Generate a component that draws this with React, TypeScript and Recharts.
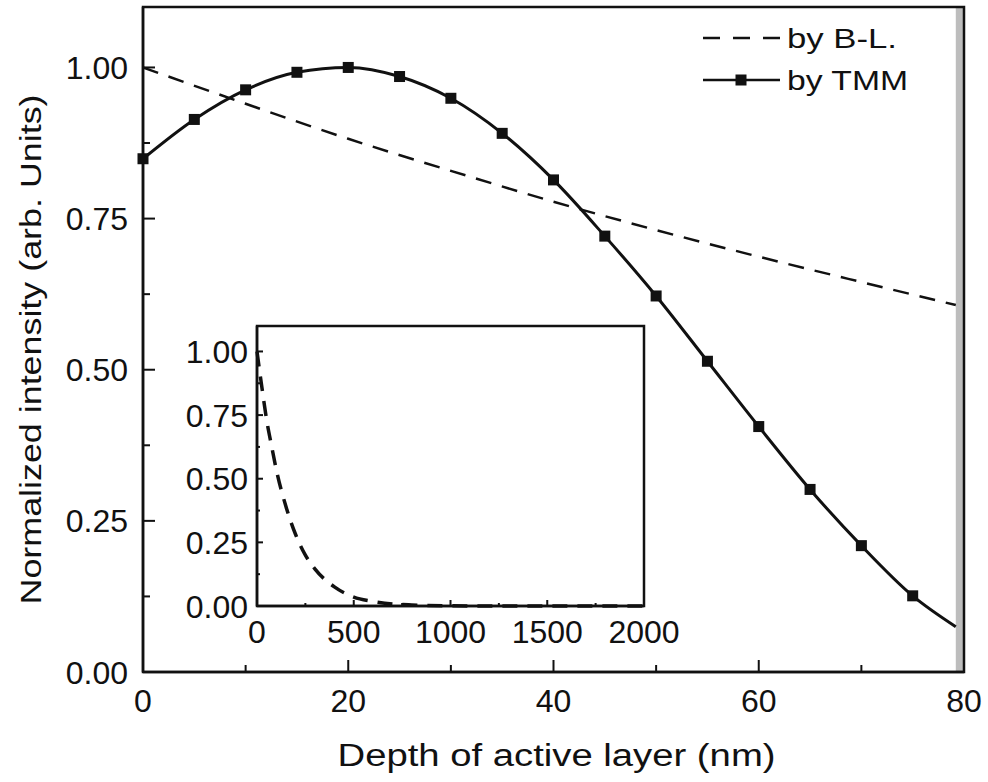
import { LineChart, Line, XAxis, YAxis, ReferenceArea, Legend } from "recharts";

// main panel: depth (nm) vs normalized intensity
const blDepth = [0, 10, 20, 30, 40, 50, 60, 70, 79.2];
const blValue = [1.0, 0.94, 0.882, 0.829, 0.778, 0.731, 0.687, 0.645, 0.607];

const tmmDepth = [0, 5, 10, 15, 20, 25, 30, 35, 40, 45, 50, 55, 60, 65, 70, 75, 79.2];
const tmmValue = [
  0.849, 0.914, 0.963, 0.992, 1.0, 0.985, 0.949, 0.891, 0.814, 0.721, 0.622, 0.514,
  0.406, 0.302, 0.209, 0.126, 0.075,
];
const tmmMarked = [0, 5, 10, 15, 20, 25, 30, 35, 40, 45, 50, 55, 60, 65, 70, 75];

// inset: same B-L decay over a long range
const insetDepth = [0, 25, 50, 75, 100, 150, 200, 250, 300, 400, 500, 600, 700, 800, 1000, 1200, 1400, 1600, 1800, 2000];
const insetValue = [1.0, 0.86, 0.73, 0.63, 0.535, 0.39, 0.28, 0.2, 0.145, 0.075, 0.035, 0.018, 0.008, 0.004, 0.001, 0, 0, 0, 0, 0];

const xTicks = [0, 10, 20, 30, 40, 50, 60, 70, 80];
const xMajor = [0, 20, 40, 60, 80];
const yTicks = [0, 0.125, 0.25, 0.375, 0.5, 0.625, 0.75, 0.875, 1.0];
const yMajor = [0, 0.25, 0.5, 0.75, 1.0];
const insetXTicks = [0, 250, 500, 750, 1000, 1250, 1500, 1750, 2000];
const insetXMajor = [0, 500, 1000, 1500, 2000];

const blData = blDepth.map((x, i) => ({ x, y: blValue[i] }));
const tmmData = tmmDepth.map((x, i) => ({ x, y: tmmValue[i], mark: tmmMarked.includes(x) }));
const insetData = insetDepth.map((x, i) => ({ x, y: insetValue[i] }));

const FONT = "'Liberation Sans', Arial, Helvetica, sans-serif";
const INK = "#111";

type TickOpts = { majors: number[]; major: number; minor: number; gap: number; size: number; fmt: (v: number) => string };

const bottomTick = (o: TickOpts) => (props: any) => {
  const { x, y, payload } = props;
  const isMajor = o.majors.includes(payload.value);
  return (
    <g>
      <line x1={x} x2={x} y1={y} y2={y - (isMajor ? o.major : o.minor)} stroke={INK} strokeWidth={2} />
      {isMajor && (
        <text x={x} y={y + o.gap} textAnchor="middle" fontSize={o.size} fontFamily={FONT} fill={INK}>
          {o.fmt(payload.value)}
        </text>
      )}
    </g>
  );
};

const leftTick = (o: TickOpts) => (props: any) => {
  const { x, y, payload } = props;
  const isMajor = o.majors.includes(payload.value);
  return (
    <g>
      <line x1={x} x2={x + (isMajor ? o.major : o.minor)} y1={y} y2={y} stroke={INK} strokeWidth={2} />
      {isMajor && (
        <text x={x - o.gap} y={y} dy="0.36em" textAnchor="end" fontSize={o.size} fontFamily={FONT} fill={INK}>
          {o.fmt(payload.value)}
        </text>
      )}
    </g>
  );
};

const TmmDot = (props: any) => {
  const { cx, cy, payload } = props;
  if (!payload.mark) return <g />;
  return <rect x={cx - 5.5} y={cy - 5.5} width={11} height={11} fill={INK} />;
};

const legendWidths = [110, 121];

const LegendBox = (props: any) => {
  const items = props.payload || [];
  return (
    <svg width={250} height={90}>
      {items.map((it: any, i: number) => {
        const cy = 23 + i * 42;
        const dashed = it.payload && it.payload.strokeDasharray;
        return (
          <g key={i}>
            <line x1={8} x2={85} y1={cy} y2={cy} stroke={INK} strokeWidth={2.5} strokeDasharray={dashed ? "17 13" : undefined} />
            {!dashed && <rect x={40.5} y={cy - 5.5} width={11} height={11} fill={INK} />}
            <text
              x={92}
              y={cy}
              dy="0.36em"
              fontSize={28}
              fontFamily={FONT}
              fill={INK}
              textLength={legendWidths[i]}
              lengthAdjust="spacingAndGlyphs"
            >
              {it.value}
            </text>
          </g>
        );
      })}
    </svg>
  );
};

function Inset() {
  return (
    <div style={{ position: "absolute", left: 160, top: 300, width: 540, height: 360 }}>
      <LineChart width={540} height={360} margin={{ top: 26, right: 56, left: 0, bottom: 0 }}>
        <XAxis
          type="number"
          dataKey="x"
          domain={[0, 2000]}
          ticks={insetXTicks}
          interval={0}
          tickSize={0}
          tickMargin={0}
          tickLine={false}
          axisLine={{ stroke: INK, strokeWidth: 2.5 }}
          height={54}
          tick={bottomTick({ majors: insetXMajor, major: 6, minor: 3, gap: 37, size: 32, fmt: (v) => String(v) })}
        />
        <YAxis
          type="number"
          domain={[0, 1.1]}
          ticks={yTicks}
          interval={0}
          tickSize={0}
          tickMargin={0}
          tickLine={false}
          axisLine={{ stroke: INK, strokeWidth: 2.5 }}
          width={97}
          tick={leftTick({ majors: yMajor, major: 6, minor: 3, gap: 9, size: 32, fmt: (v) => v.toFixed(2) })}
        />
        <ReferenceArea x1={0} x2={2000} y1={0} y2={1.1} fill="none" stroke={INK} strokeWidth={2.5} />
        <Line
          data={insetData}
          dataKey="y"
          type="monotone"
          stroke={INK}
          strokeWidth={3.5}
          strokeDasharray="15 10"
          dot={false}
          isAnimationActive={false}
        />
      </LineChart>
    </div>
  );
}

export default function App() {
  return (
    <div style={{ position: "absolute", left: 0, top: 0, width: 988, height: 782, background: "#fff" }}>
      <LineChart width={988} height={782} margin={{ top: 7, right: 24, left: 0, bottom: 0 }}>
        <XAxis
          type="number"
          dataKey="x"
          domain={[0, 80]}
          ticks={xTicks}
          interval={0}
          tickSize={0}
          tickMargin={0}
          tickLine={false}
          axisLine={{ stroke: INK, strokeWidth: 2.5 }}
          height={110}
          tick={bottomTick({ majors: xMajor, major: 12, minor: 7, gap: 40, size: 32, fmt: (v) => String(v) })}
          label={{
            content: (p: any) => {
              const vb = p.viewBox;
              return (
                <text
                  x={vb.x + vb.width / 2 + 3}
                  y={vb.y + 94}
                  textAnchor="middle"
                  fontSize={31}
                  fontFamily={FONT}
                  fill={INK}
                  textLength={438}
                  lengthAdjust="spacingAndGlyphs"
                >
                  Depth of active layer (nm)
                </text>
              );
            },
          }}
        />
        <YAxis
          type="number"
          domain={[0, 1.1]}
          ticks={yTicks}
          interval={0}
          tickSize={0}
          tickMargin={0}
          tickLine={false}
          axisLine={{ stroke: INK, strokeWidth: 2.5 }}
          width={143}
          tick={leftTick({ majors: yMajor, major: 12, minor: 7, gap: 15, size: 32, fmt: (v) => v.toFixed(2) })}
          label={{
            content: (p: any) => {
              const vb = p.viewBox;
              const cx = vb.x + 30;
              const cy = vb.y + vb.height / 2 + 10;
              return (
                <text
                  x={cx}
                  y={cy}
                  dy="0.36em"
                  transform={`rotate(-90 ${cx} ${cy})`}
                  textAnchor="middle"
                  fontSize={30}
                  fontFamily={FONT}
                  fill={INK}
                  textLength={510}
                  lengthAdjust="spacingAndGlyphs"
                >
                  Normalized intensity (arb. Units)
                </text>
              );
            },
          }}
        />
        <ReferenceArea x1={79.2} x2={80} y1={0} y2={1.1} fill="#bdbdbd" fillOpacity={1} stroke="none" />
        <ReferenceArea x1={0} x2={80} y1={0} y2={1.1} fill="none" stroke={INK} strokeWidth={2.5} />
        <Legend
          layout="horizontal"
          verticalAlign="middle"
          align="center"
          wrapperStyle={{ position: "absolute", left: 695, top: 15, width: 250, height: 90 }}
          content={LegendBox}
        />
        <Line
          name="by B-L."
          data={blData}
          dataKey="y"
          type="monotone"
          stroke={INK}
          strokeWidth={2.5}
          strokeDasharray="16 11"
          dot={false}
          isAnimationActive={false}
        />
        <Line
          name="by TMM"
          data={tmmData}
          dataKey="y"
          type="monotone"
          stroke={INK}
          strokeWidth={3}
          dot={TmmDot}
          isAnimationActive={false}
        />
      </LineChart>
      <Inset />
    </div>
  );
}
